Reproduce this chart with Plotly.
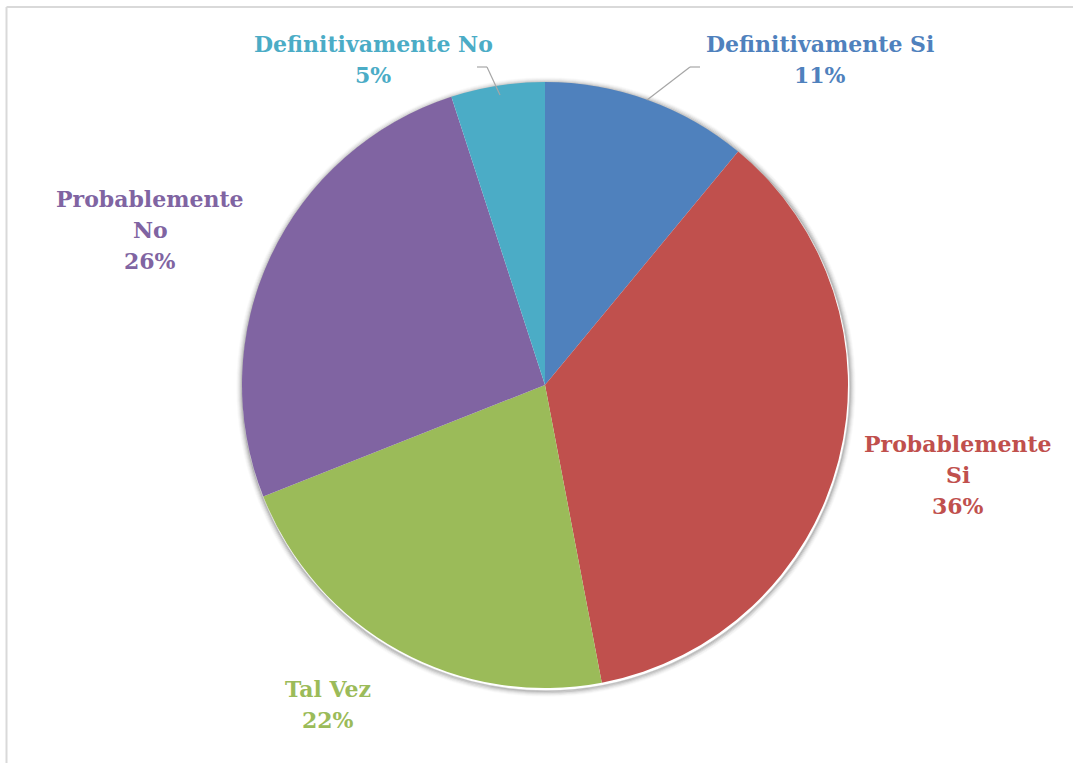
import plotly.graph_objects as go

categories = ["Definitivamente Si", "Probablemente Si", "Tal Vez", "Probablemente No", "Definitivamente No"]
values = [11, 36, 22, 26, 5]
colors = ["#4F81BD", "#C0504D", "#9BBB59", "#8064A2", "#4BACC6"]
# label text broken over lines, as shown beside each slice
label_lines = [
    ["Definitivamente Si"],
    ["Probablemente", "Si"],
    ["Tal Vez"],
    ["Probablemente", "No"],
    ["Definitivamente No"],
]
# label centre positions in pixels (x, y of first line)
label_pos = [(820, 44), (958, 444), (328, 689), (150, 199), (373, 44)]

W, H = 1073, 763
cx, cy, r = 545, 385, 303

fig = go.Figure()
fig.add_trace(go.Pie(
    labels=categories,
    values=values,
    marker=dict(colors=colors, line=dict(color="white", width=0)),
    sort=False,
    direction="clockwise",
    rotation=0,
    textinfo="none",
    hoverinfo="label+percent",
    showlegend=False,
    domain=dict(x=[(cx - r) / W, (cx + r) / W], y=[(H - cy - r) / H, (H - cy + r) / H]),
))

font_family = "DejaVu Serif"
line_gap = 31
for lines, val, col, (lx, ly) in zip(label_lines, values, colors, label_pos):
    texts = lines + [f"{val}%"]
    for i, t in enumerate(texts):
        fig.add_annotation(
            x=lx / W, y=1 - (ly + i * line_gap) / H,
            xref="paper", yref="paper",
            text=f"<b>{t}</b>", showarrow=False,
            xanchor="center", yanchor="middle",
            font=dict(family=font_family, size=22, color=col),
        )

def px_line(x0, y0, x1, y1, color="#A6A6A6", width=1.2):
    return dict(type="line", xref="paper", yref="paper",
                x0=x0 / W, y0=1 - y0 / H, x1=x1 / W, y1=1 - y1 / H,
                line=dict(color=color, width=width))

shapes = []
# soft shadow ring around the pie
for k, op in zip(range(1, 7), [0.22, 0.16, 0.11, 0.07, 0.04, 0.02]):
    rr = r + k
    shapes.append(dict(
        type="circle", xref="paper", yref="paper", layer="below",
        x0=(cx + 1 - rr) / W, x1=(cx + 1 + rr) / W,
        y0=1 - (cy + 2 + rr) / H, y1=1 - (cy + 2 - rr) / H,
        line=dict(color=f"rgba(0,0,0,{op})", width=1.5),
    ))
shapes += [
    # leader lines for the two small slices
    px_line(700, 67, 690, 67), px_line(690, 67, 647, 100),
    px_line(477, 67, 487, 67), px_line(487, 67, 500, 95),
    # chart frame
    px_line(6.5, H, 6.5, 7, color="#D9D9D9", width=2),
    px_line(6.5, 7, W, 7, color="#D9D9D9", width=2),
]

fig.update_layout(
    width=W, height=H,
    margin=dict(l=0, r=0, t=0, b=0),
    paper_bgcolor="white", plot_bgcolor="white",
    shapes=shapes,
)

fig.write_html("out.html")
